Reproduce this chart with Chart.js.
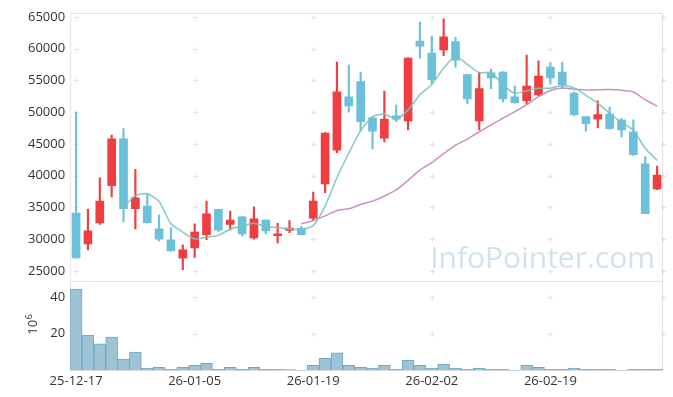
<!DOCTYPE html>
<html>
<head>
<meta charset="utf-8">
<script src="https://cdn.jsdelivr.net/npm/chart.js@4.4.1/dist/chart.umd.min.js"></script>
<style>
  html, body { margin: 0; padding: 0; background: #fff; }
</style>
</head>
<body>
<canvas id="myChart" width="673" height="397"></canvas>
<script>
// daily candles, 25-12-17 .. 26-03-05
var dates = [
  '25-12-17','25-12-18','25-12-19','25-12-22','25-12-23','25-12-24','25-12-26','25-12-29','25-12-30','26-01-02',
  '26-01-05','26-01-06','26-01-07','26-01-08','26-01-09','26-01-12','26-01-13','26-01-14','26-01-15','26-01-16',
  '26-01-19','26-01-20','26-01-21','26-01-22','26-01-23','26-01-26','26-01-27','26-01-28','26-01-29','26-01-30',
  '26-02-02','26-02-03','26-02-04','26-02-05','26-02-06','26-02-09','26-02-10','26-02-11','26-02-12','26-02-13',
  '26-02-19','26-02-20','26-02-23','26-02-24','26-02-25','26-02-26','26-02-27','26-03-03','26-03-04','26-03-05'
];
var openPrices = [
  34100, 29250, 32550, 38400, 45800, 34800, 35200, 31600, 29900, 27000,
  28600, 30700, 34700, 32300, 33500, 30200, 33000, 30550, 31350, 31700,
  33300, 38700, 44000, 52400, 54800, 49100, 45900, 49400, 48600, 61200,
  59300, 59800, 61100, 55900, 48600, 56200, 56300, 52400, 51800, 52700,
  57100, 56300, 53000, 49300, 48900, 49700, 48800, 46900, 41850, 37900
];
var highPrices = [
  50000, 34700, 39650, 46400, 47400, 41000, 37100, 33800, 31800, 29100,
  32400, 36000, 34700, 34400, 33600, 35100, 33000, 32500, 32900, 32000,
  37400, 46800, 57900, 57400, 56300, 49200, 53300, 51100, 58600, 64200,
  62000, 64700, 61800, 56000, 56300, 56800, 56400, 54100, 59000, 58100,
  57800, 57900, 53200, 49300, 51800, 50800, 49000, 48800, 42950, 41500
];
var lowPrices = [
  27000, 28300, 32300, 36650, 32700, 31600, 32500, 29700, 28100, 25200,
  27100, 29900, 31200, 31400, 30500, 30000, 30800, 29400, 31000, 30700,
  33000, 37300, 43600, 50000, 47000, 44200, 45300, 48500, 47200, 58500,
  54400, 58900, 57100, 51300, 47200, 53700, 51600, 51400, 51300, 52600,
  54400, 53700, 49400, 47000, 47500, 47300, 46100, 43200, 34000, 37800
];
var closePrices = [
  27050, 31300, 36000, 45800, 34800, 36500, 32600, 30000, 28150, 28300,
  31100, 34000, 31400, 33000, 30800, 33200, 31300, 30850, 31750, 30700,
  36000, 46700, 53200, 51000, 48500, 47000, 48900, 48900, 58500, 60400,
  55100, 61850, 58200, 52100, 53700, 55400, 52100, 51500, 54100, 55700,
  55400, 54300, 49600, 48200, 49600, 47400, 47200, 43300, 34000, 40100
];
// moving averages as drawn on the chart
var ma5 = [
  null, null, null, null, 34990, 36880, 37140, 35940, 32410, 31110,
  30030, 30310, 30590, 31560, 32060, 32480, 31940, 31830, 31580, 31560,
  32120, 35200, 39670, 43520, 47080, 49280, 49720, 48860, 50360, 52740,
  54360, 56950, 58810, 57530, 56190, 56250, 54300, 52960, 53360, 53760,
  53760, 54200, 53820, 52640, 51420, 49820, 48400, 47140, 44300, 42400
];
var ma20 = [
  null, null, null, null, null, null, null, null, null, null,
  null, null, null, null, null, null, null, null, null, 32430,
  32880, 33650, 34510, 34770, 35450, 35980, 36790, 37740, 39260, 40860,
  42060, 43450, 44790, 45750, 46890, 48000, 49040, 50080, 51190, 52440,
  53410, 53790, 53610, 53470, 53530, 53550, 53460, 53180, 51960, 50940
];
// volume, millions of shares
var volumes = [
  44.2, 19.2, 14.4, 18.1, 6.1, 9.9, 1.2, 1.7, 0.6, 1.7,
  2.8, 3.9, 0.6, 1.7, 0.6, 1.7, 0.6, 0.6, 0.5, 0.1,
  2.8, 6.6, 9.5, 2.8, 1.7, 1.2, 2.8, 0.6, 5.5, 2.8,
  1.2, 3.4, 1.2, 0.6, 1.2, 0.6, 0.6, 0.1, 2.8, 1.7,
  0.6, 0.6, 1.2, 0.6, 0.6, 0.6, 0.1, 0.6, 0.6, 0.6
];
var xTickLabels = ['25-12-17', '26-01-05', '26-01-19', '26-02-02', '26-02-19'];
var priceTicks = [25000, 30000, 35000, 40000, 45000, 50000, 55000, 60000, 65000];
var volumeTicks = [20, 40];

var upColor = '#ef3d41';
var downColor = '#6cc1da';
var frameColor = '#ecdfe3';
var tickFont = { family: '"Open Sans", sans-serif', size: 13 };

var candleColors = dates.map(function (d, i) {
  return closePrices[i] >= openPrices[i] ? upColor : downColor;
});
var wickData = dates.map(function (d, i) { return [lowPrices[i], highPrices[i]]; });
var bodyData = dates.map(function (d, i) { return [openPrices[i], closePrices[i]]; });

// frames, grid crosses, watermark and the 10^6 unit label
var decorPlugin = {
  id: 'decor',
  beforeDatasetsDraw: function (chart) {
    var ctx = chart.ctx;
    var area = chart.chartArea;
    var x = chart.scales.x;
    var panels = [[chart.scales.y, priceTicks], [chart.scales.yv, volumeTicks]];
    ctx.save();
    ctx.strokeStyle = frameColor;
    ctx.lineWidth = 1;
    var crossX = xTickLabels.map(function (l) { return x.getPixelForValue(dates.indexOf(l)); });
    crossX.push(area.right);
    panels.forEach(function (p) {
      var s = p[0];
      ctx.strokeRect(area.left + 0.5, Math.round(s.top) + 0.5, area.right - area.left - 1, Math.round(s.bottom - s.top));
      p[1].forEach(function (v) {
        var py = Math.round(s.getPixelForValue(v)) + 0.5;
        crossX.forEach(function (cx) {
          cx = Math.round(cx) + 0.5;
          ctx.beginPath();
          ctx.moveTo(cx - 2.5, py); ctx.lineTo(cx + 2.5, py);
          ctx.moveTo(cx, py - 2.5); ctx.lineTo(cx, py + 2.5);
          ctx.stroke();
        });
      });
    });
    // watermark
    var y = chart.scales.y;
    ctx.font = '30px "Open Sans", sans-serif';
    ctx.fillStyle = 'rgba(170, 202, 220, 0.55)';
    ctx.textAlign = 'right';
    ctx.textBaseline = 'alphabetic';
    ctx.fillText('InfoPointer.com', area.right - 8, y.bottom - 13);
    ctx.restore();
  },
  afterDraw: function (chart) {
    var ctx = chart.ctx;
    var yv = chart.scales.yv;
    ctx.save();
    ctx.translate(37, (yv.top + yv.bottom) / 2 - 1);
    ctx.rotate(-Math.PI / 2);
    ctx.fillStyle = '#333';
    ctx.textBaseline = 'alphabetic';
    ctx.textAlign = 'left';
    ctx.font = '13px "Open Sans", sans-serif';
    var w1 = ctx.measureText('10').width;
    ctx.font = '9px "Open Sans", sans-serif';
    var w2 = ctx.measureText('6').width;
    var start = -(w1 + w2) / 2;
    ctx.font = '13px "Open Sans", sans-serif';
    ctx.fillText('10', start, 0);
    ctx.font = '9px "Open Sans", sans-serif';
    ctx.fillText('6', start + w1 + 0.5, -5);
    ctx.restore();
  }
};

function plainTick(v) { return String(v); }

var ctx = document.getElementById('myChart').getContext('2d');
var myChart = new Chart(ctx, {
  type: 'bar',
  data: {
    labels: dates,
    datasets: [
      {
        type: 'line', label: 'MA5', data: ma5, yAxisID: 'y', order: 1,
        borderColor: 'rgba(118, 196, 188, 0.9)', borderWidth: 1.5, pointRadius: 0, tension: 0.2
      },
      {
        type: 'line', label: 'MA20', data: ma20, yAxisID: 'y', order: 2,
        borderColor: 'rgba(200, 138, 190, 0.95)', borderWidth: 1.5, pointRadius: 0, tension: 0.2
      },
      {
        label: 'body', data: bodyData, yAxisID: 'y', order: 3, grouped: false,
        backgroundColor: candleColors, barThickness: 8, borderWidth: 0
      },
      {
        label: 'wick', data: wickData, yAxisID: 'y', order: 4, grouped: false,
        backgroundColor: candleColors, barThickness: 1.5, borderWidth: 0
      },
      {
        label: 'volume', data: volumes, yAxisID: 'yv', order: 5, grouped: false,
        backgroundColor: '#9dc3d5', borderColor: '#6ea7c9', borderWidth: 1,
        barPercentage: 1, categoryPercentage: 1
      }
    ]
  },
  plugins: [decorPlugin],
  options: {
    responsive: false,
    animation: false,
    layout: { padding: { left: 23, right: 10, top: 7, bottom: 5 } },
    plugins: { legend: { display: false }, tooltip: { enabled: false } },
    scales: {
      x: {
        type: 'category',
        offset: true,
        grid: { display: false, drawTicks: false },
        border: { display: false },
        ticks: {
          autoSkip: false, maxRotation: 0, padding: 3, color: '#333', font: tickFont,
          callback: function (v) {
            var l = this.getLabelForValue(v);
            return xTickLabels.indexOf(l) >= 0 ? l : '';
          }
        }
      },
      yv: {
        type: 'linear', position: 'left', stack: 'panels', stackWeight: 1,
        min: 0, max: 48.6,
        grid: { display: false, drawTicks: false },
        border: { display: false },
        afterBuildTicks: function (axis) {
          axis.ticks = volumeTicks.map(function (v) { return { value: v }; });
        },
        ticks: { autoSkip: false, padding: 5, color: '#333', font: tickFont, callback: plainTick }
      },
      y: {
        type: 'linear', position: 'left', stack: 'panels', stackWeight: 3,
        min: 23400, max: 65650,
        grid: { display: false, drawTicks: false },
        border: { display: false },
        afterBuildTicks: function (axis) {
          axis.ticks = priceTicks.map(function (v) { return { value: v }; });
        },
        ticks: { autoSkip: false, padding: 5, color: '#333', font: tickFont, callback: plainTick }
      }
    }
  }
});
</script>
</body>
</html>
